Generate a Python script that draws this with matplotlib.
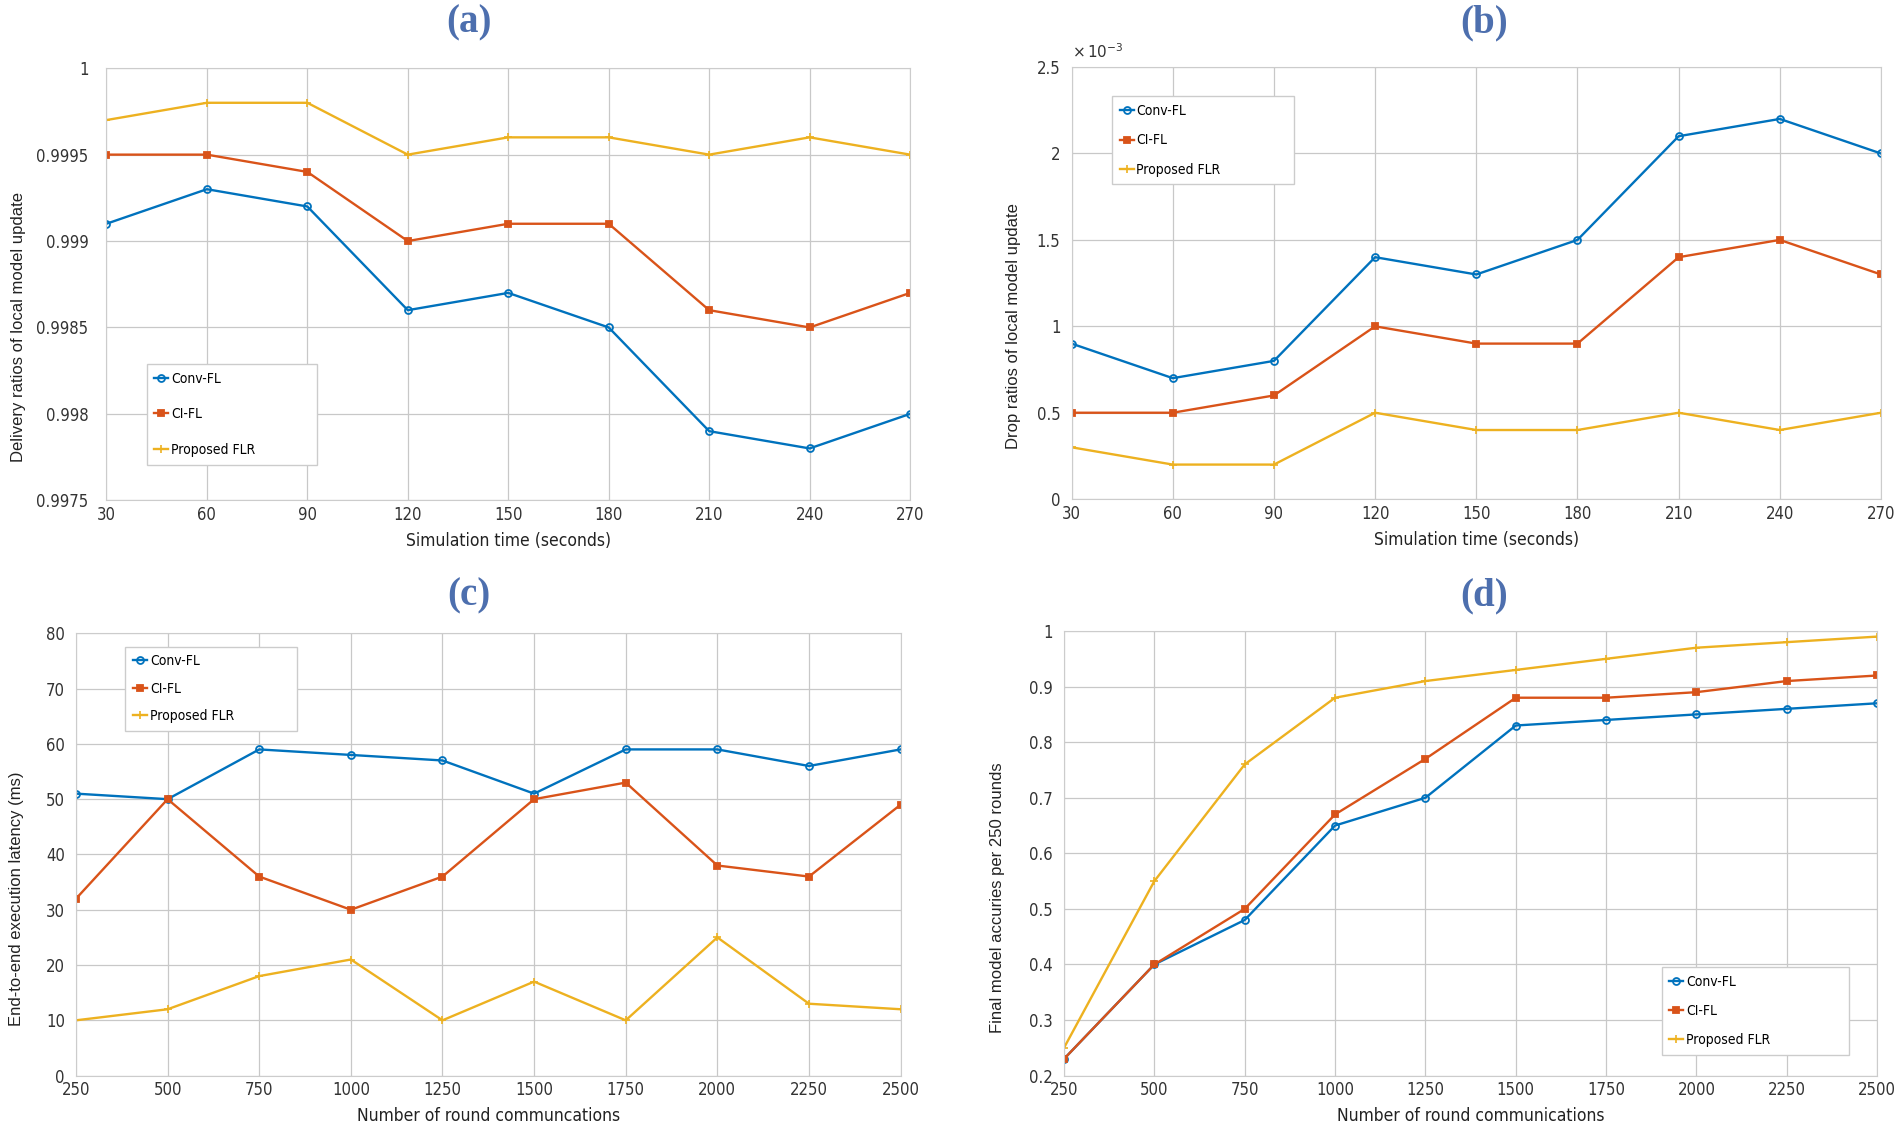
import matplotlib
matplotlib.use('Agg')
import matplotlib.pyplot as plt
from matplotlib.ticker import FixedLocator, FixedFormatter

# data
sim_time = [30, 60, 90, 120, 150, 180, 210, 240, 270]
rounds = [250, 500, 750, 1000, 1250, 1500, 1750, 2000, 2250, 2500]

deliv_conv = [0.9991, 0.9993, 0.9992, 0.9986, 0.9987, 0.9985, 0.9979, 0.9978, 0.9980]
deliv_ci = [0.9995, 0.9995, 0.9994, 0.9990, 0.9991, 0.9991, 0.9986, 0.9985, 0.9987]
deliv_flr = [0.9997, 0.9998, 0.9998, 0.9995, 0.9996, 0.9996, 0.9995, 0.9996, 0.9995]

drop_conv = [0.9, 0.7, 0.8, 1.4, 1.3, 1.5, 2.1, 2.2, 2.0]   # x 1e-3
drop_ci = [0.5, 0.5, 0.6, 1.0, 0.9, 0.9, 1.4, 1.5, 1.3]
drop_flr = [0.3, 0.2, 0.2, 0.5, 0.4, 0.4, 0.5, 0.4, 0.5]

lat_conv = [51, 50, 59, 58, 57, 51, 59, 59, 56, 59]
lat_ci = [32, 50, 36, 30, 36, 50, 53, 38, 36, 49]
lat_flr = [10, 12, 18, 21, 10, 17, 10, 25, 13, 12]

acc_conv = [0.23, 0.40, 0.48, 0.65, 0.70, 0.83, 0.84, 0.85, 0.86, 0.87]
acc_ci = [0.23, 0.40, 0.50, 0.67, 0.77, 0.88, 0.88, 0.89, 0.91, 0.92]
acc_flr = [0.25, 0.55, 0.76, 0.88, 0.91, 0.93, 0.95, 0.97, 0.98, 0.99]

names = ['Conv-FL', 'CI-FL', 'Proposed FLR']
colors = ['#0072BD', '#D95319', '#EDB120']
markers = ['o', 's', '+']

plt.rcParams['font.family'] = ['Liberation Sans', 'DejaVu Sans']
cond = ['DejaVu Sans']

fig = plt.figure(figsize=(19, 11.37), dpi=100)
boxes = {
    'a': [0.056, 0.560, 0.423, 0.380],
    'b': [0.564, 0.561, 0.426, 0.380],
    'c': [0.040, 0.054, 0.434, 0.389],
    'd': [0.560, 0.054, 0.428, 0.391],
}
title_x = {'a': 0.247, 'b': 0.781, 'c': 0.247, 'd': 0.781}
title_y = {'a': 0.980, 'b': 0.980, 'c': 0.476, 'd': 0.476}
ylab_x = {'a': -0.100, 'b': -0.062, 'c': -0.063, 'd': -0.072}
ypad = {'a': 13, 'b': 8, 'c': 8, 'd': 8}
lspace = {'a': 1.55, 'b': 1.1, 'c': 0.97, 'd': 1.1}


def panel(key, x, ys, ylim, yticks, ylabels, xlabel, ylabel, leg_box):
    ax = fig.add_axes(boxes[key])
    for y, c, m, n in zip(ys, colors, markers, names):
        if m == '+':
            ax.plot(x, y, color=c, lw=1.7, marker=m, ms=6, mew=1.2, label=n)
        else:
            ax.plot(x, y, color=c, lw=1.7, marker=m, ms=5, mew=1.3,
                    mfc='none' if m == 'o' else c, label=n)
    ax.set_xlim(x[0], x[-1])
    ax.set_ylim(*ylim)
    ax.set_xticks(x)
    ax.yaxis.set_major_locator(FixedLocator(yticks))
    ax.yaxis.set_major_formatter(FixedFormatter(ylabels))
    ax.grid(True, color='#c8c8c8', lw=0.9)
    ax.tick_params(length=0, labelsize=12, colors='#333333')
    ax.tick_params(axis='x', pad=4)
    ax.tick_params(axis='y', pad=ypad[key])
    for lab in ax.get_xticklabels() + ax.get_yticklabels():
        lab.set_family(cond)
        lab.set_fontstretch('condensed')
    for s in ax.spines.values():
        s.set_color('#cccccc')
    ax.set_xlabel(xlabel, fontsize=12.5, color='#222222', labelpad=6,
                  family=cond, fontstretch='condensed')
    ax.set_ylabel(ylabel, fontsize=12, color='#222222')
    ax.yaxis.set_label_coords(ylab_x[key], 0.40)
    ax.legend(loc='upper left', bbox_to_anchor=leg_box, mode='expand',
              borderaxespad=0, handlelength=1.0, handletextpad=0.2,
              labelspacing=lspace[key], borderpad=0.55, fancybox=False,
              framealpha=1, edgecolor='#cccccc',
              prop={'family': cond, 'stretch': 'condensed', 'size': 10})
    fig.text(title_x[key], title_y[key], '(%s)' % key, fontsize=28,
             fontweight='bold', family=['Liberation Serif', 'DejaVu Serif'],
             color='#4d6fae', ha='center', va='center')
    return ax


# legend boxes as (x0, y0, width, height) in axes fraction
panel('a', sim_time, [deliv_conv, deliv_ci, deliv_flr], (0.9975, 1.0),
      [0.9975, 0.998, 0.9985, 0.999, 0.9995, 1.0],
      ['0.9975', '0.998', '0.9985', '0.999', '0.9995', '1'],
      'Simulation time (seconds)', 'Delivery ratios of local model update',
      (0.05, 0.062, 0.212, 0.253))

ax_b = panel('b', sim_time, [drop_conv, drop_ci, drop_flr], (0, 2.5),
             [0, 0.5, 1, 1.5, 2, 2.5], ['0', '0.5', '1', '1.5', '2', '2.5'],
             'Simulation time (seconds)', 'Drop ratios of local model update',
             (0.05, 0.724, 0.225, 0.208))
ax_b.text(0.0, 1.015, r'$\times\,10^{-3}$', transform=ax_b.transAxes,
          fontsize=11, color='#333333', ha='left', va='bottom')

panel('c', rounds, [lat_conv, lat_ci, lat_flr], (0, 80),
      list(range(0, 81, 10)), [str(v) for v in range(0, 81, 10)],
      'Number of round communcations', 'End-to-end execution latency (ms)',
      (0.06, 0.78, 0.208, 0.19))

panel('d', rounds, [acc_conv, acc_ci, acc_flr], (0.2, 1.0),
      [0.2, 0.3, 0.4, 0.5, 0.6, 0.7, 0.8, 0.9, 1.0],
      ['0.2', '0.3', '0.4', '0.5', '0.6', '0.7', '0.8', '0.9', '1'],
      'Number of round communications', 'Final model accuries per 250 rounds',
      (0.735, 0.047, 0.23, 0.197))

fig.savefig('out.png', dpi=100, facecolor='white')
